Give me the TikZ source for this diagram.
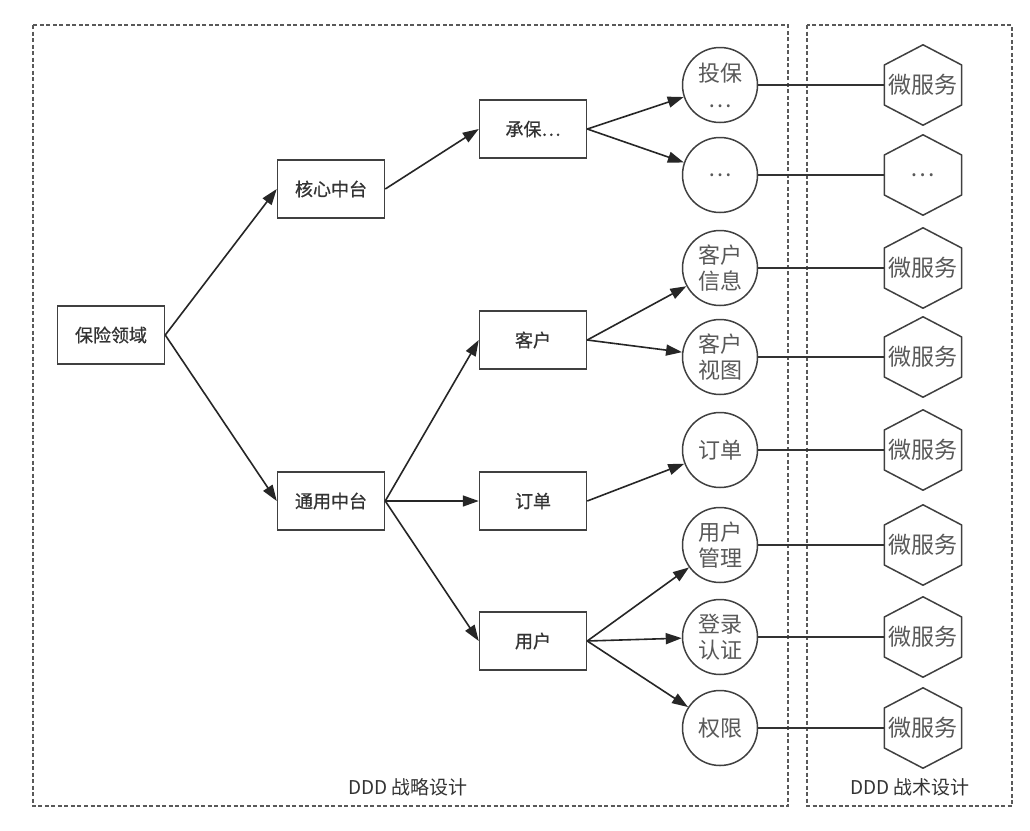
\documentclass[tikz,border=0pt]{standalone}
\usepackage{fontspec}
\setmainfont{Noto Sans CJK SC}
\newfontfamily\boxfont{Noto Sans CJK SC}[FakeBold=0.7]
\usetikzlibrary{arrows.meta}
\begin{document}
\begin{tikzpicture}[x=1pt,y=-1pt,
  frame/.style={draw=black!65, line width=1.5pt, dash pattern=on 4pt off 2.5pt},
  box/.style={draw=black!75, line width=1.5pt, minimum width=107pt, minimum height=58pt,
    inner sep=0pt, text=black!80, font=\boxfont\fontsize{18}{20}\selectfont},
  ctx/.style={circle, draw=black!75, line width=1.5pt, minimum size=75pt, inner sep=0pt,
    align=center, text=black!65, font=\fontsize{22}{26}\selectfont},
  hexa/.style={minimum width=77pt, minimum height=80pt, inner sep=0pt,
    text=black!65, font=\fontsize{23}{26}\selectfont},
  hexline/.style={draw=black!75, line width=1.5pt, line join=round},
  arr/.style={draw=black!85, line width=1.6pt, -{Triangle[length=16pt,width=11pt]}},
  link/.style={draw=black!80, line width=1.5pt},
  caption/.style={text=black!80, font=\fontsize{19}{22}\selectfont}
]
\fill[white] (0,0) rectangle (1030,830);
\useasboundingbox (0,0) rectangle (1030,830);

% strategic and tactical design areas
\draw[frame] (33,25) rectangle (788,806);
\draw[frame] (807,25) rectangle (1012,806);
\node[caption] (lstrat) at (408,787) {DDD 战略设计};
\node[caption] (ltact) at (910,787) {DDD 战术设计};

% domain tree
\node[box] (root) at (111,335) {保险领域};
\node[box] (core) at (331,189) {核心中台};
\node[box] (gen)  at (331,501) {通用中台};
\node[box] (uw)   at (533,129) {承保⋯};
\node[box] (cust) at (533,340) {客户};
\node[box] (ord)  at (533,501) {订单};
\node[box] (user) at (533,641) {用户};

% bounded contexts
\node[ctx] (c1) at (720,85)  {投保\\⋯};
\node[ctx] (c2) at (720,175) {⋯};
\node[ctx] (c3) at (720,268) {客户\\信息};
\node[ctx] (c4) at (720,357) {客户\\视图};
\node[ctx] (c5) at (720,450) {订单};
\node[ctx] (c6) at (720,545) {用户\\管理};
\node[ctx] (c7) at (720,637) {登录\\认证};
\node[ctx] (c8) at (720,728) {权限};

% microservices
\node[hexa] (h1) at (923,85)  {微服务};
\node[hexa] (h2) at (923,175) {⋯};
\node[hexa] (h3) at (923,268) {微服务};
\node[hexa] (h4) at (923,357) {微服务};
\node[hexa] (h5) at (923,450) {微服务};
\node[hexa] (h6) at (923,545) {微服务};
\node[hexa] (h7) at (923,637) {微服务};
\node[hexa] (h8) at (923,728) {微服务};
\foreach \h in {h1,h2,h3,h4,h5,h6,h7,h8}
  \draw[hexline] (\h.north) -- ([yshift=20pt]\h.east) -- ([yshift=-20pt]\h.east)
    -- (\h.south) -- ([yshift=-20pt]\h.west) -- ([yshift=20pt]\h.west) -- cycle;

% tree arrows
\draw[arr] (root.east) -- (core.west);
\draw[arr] (root.east) -- (gen.west);
\draw[arr] (core.east) -- (uw.west);
\draw[arr] (gen.east) -- (cust.west);
\draw[arr] (gen.east) -- (ord.west);
\draw[arr] (gen.east) -- (user.west);
\draw[arr] (uw.east) -- (c1);
\draw[arr] (uw.east) -- (c2);
\draw[arr] (cust.east) -- (c3);
\draw[arr] (cust.east) -- (c4);
\draw[arr] (ord.east) -- (c5);
\draw[arr] (user.east) -- (c6);
\draw[arr] (user.east) -- (c7);
\draw[arr] (user.east) -- (c8);

% context to microservice links
\foreach \i in {1,...,8}
  \draw[link] (c\i.east) -- (h\i.west);
\end{tikzpicture}
\end{document}
